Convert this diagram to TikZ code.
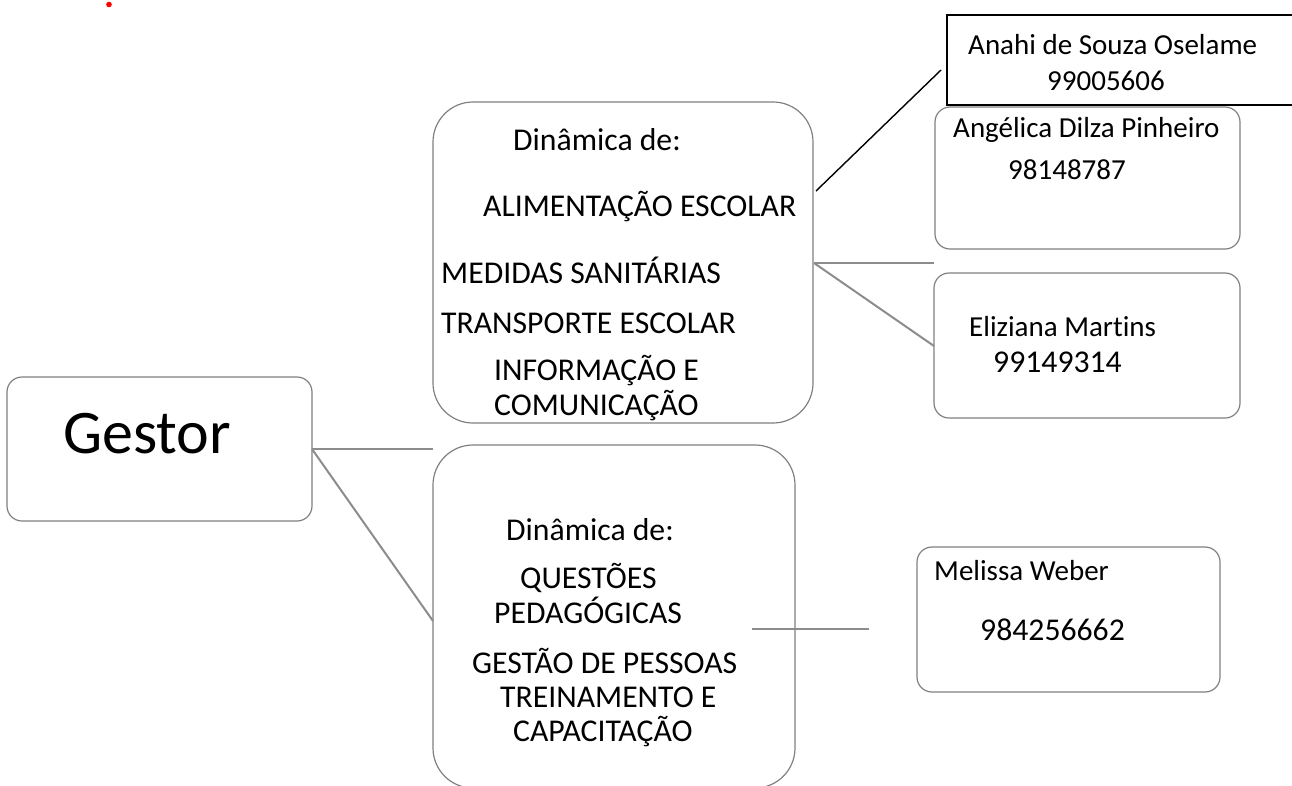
\documentclass[tikz,border=0pt]{standalone}
\usepackage{fontspec}
\setmainfont{Carlito}[Ligatures=NoCommon]
\definecolor{boxgray}{HTML}{808080}
\definecolor{linegray}{HTML}{8C8C8C}
\begin{document}
\begin{tikzpicture}[x=1pt,y=-1pt,
  bigbox/.style={draw=boxgray, line width=1.2pt, rounded corners=40pt, inner sep=0pt, outer sep=0pt},
  smallbox/.style={draw=boxgray, line width=1.2pt, rounded corners=15pt, inner sep=0pt, outer sep=0pt},
  sharpbox/.style={draw=black, line width=1.6pt, inner sep=0pt, outer sep=0pt},
  txt/.style={anchor=base west, inner sep=0pt, font=\fontsize{31.7}{38}\selectfont},
  nametxt/.style={anchor=base west, inner sep=0pt, font=\fontsize{29}{35}\selectfont},
  conn/.style={draw=linegray, line width=2pt},
  blackconn/.style={draw=black, line width=1.4pt}]
\useasboundingbox (0,0) rectangle (1292,785);
\fill[red] (109,4.5) circle (2.8);

% boxes
\node[smallbox, minimum width=305pt, minimum height=144pt] (gestor) at (159.5,449) {};
\node[bigbox, minimum width=380pt, minimum height=321pt] (box1) at (623,262.5) {};
\node[bigbox, minimum width=362pt, minimum height=343pt] (box2) at (614,616.5) {};
\node[sharpbox, minimum width=353pt, minimum height=90pt] (anahi) at (1123.5,60) {};
\node[smallbox, minimum width=305pt, minimum height=142pt] (angel) at (1087.5,178) {};
\node[smallbox, minimum width=306pt, minimum height=145pt] (eliz) at (1087,345.5) {};
\node[smallbox, minimum width=303pt, minimum height=145pt] (meli) at (1068.5,619.5) {};

% texts
\node[anchor=base west, inner sep=0pt, font=\fontsize{62}{70}\selectfont] (tg) at (63,453) {Gestor};
\node[txt] (t11) at (513,150) {Dinâmica de:};
\node[txt] (t12) at (483,216) {ALIMENTAÇÃO ESCOLAR};
\node[txt] (t13) at (441,283) {MEDIDAS SANITÁRIAS};
\node[txt] (t14) at (441,333) {TRANSPORTE ESCOLAR};
\node[txt] (t15) at (494,380) {INFORMAÇÃO E};
\node[txt] (t16) at (494,415) {COMUNICAÇÃO};
\node[txt] (t21) at (506,540) {Dinâmica de:};
\node[txt] (t22) at (520,588) {QUESTÕES};
\node[txt] (t23) at (494,623) {PEDAGÓGICAS};
\node[txt] (t24) at (472,673) {GESTÃO DE PESSOAS};
\node[txt] (t25) at (500,707) {TREINAMENTO E};
\node[txt] (t26) at (513,741) {CAPACITAÇÃO};
\node[nametxt] (ta1) at (968,54) {Anahi de Souza Oselame};
\node[nametxt] (ta2) at (1047,90) {99005606};
\node[nametxt] (tb1) at (953,137) {Angélica Dilza Pinheiro};
\node[nametxt] (tb2) at (1008,179) {98148787};
\node[nametxt] (tc1) at (969,336) {Eliziana Martins};
\node[txt] (tc2) at (993,372) {99149314};
\node[nametxt] (td1) at (934,580) {Melissa Weber};
\node[txt] (td2) at (980,640) {984256662};

% connector ends
\coordinate (g1) at (433,449);
\coordinate (g2) at (433,621);
\coordinate (a1) at (816,191);
\coordinate (a2) at (941,70);
\coordinate (b1) at (814,263);
\coordinate (b2) at (934,263);
\coordinate (c2) at (934,346);
\coordinate (m1) at (752,629);
\coordinate (m2) at (869,629);

\draw[conn] (gestor.east) -- (g1);
\draw[conn] (gestor.east) -- (g2);
\draw[blackconn] (a1) -- (a2);
\draw[conn] (b1) -- (b2);
\draw[conn] (b1) -- (c2);
\draw[conn] (m1) -- (m2);
\end{tikzpicture}
\end{document}
